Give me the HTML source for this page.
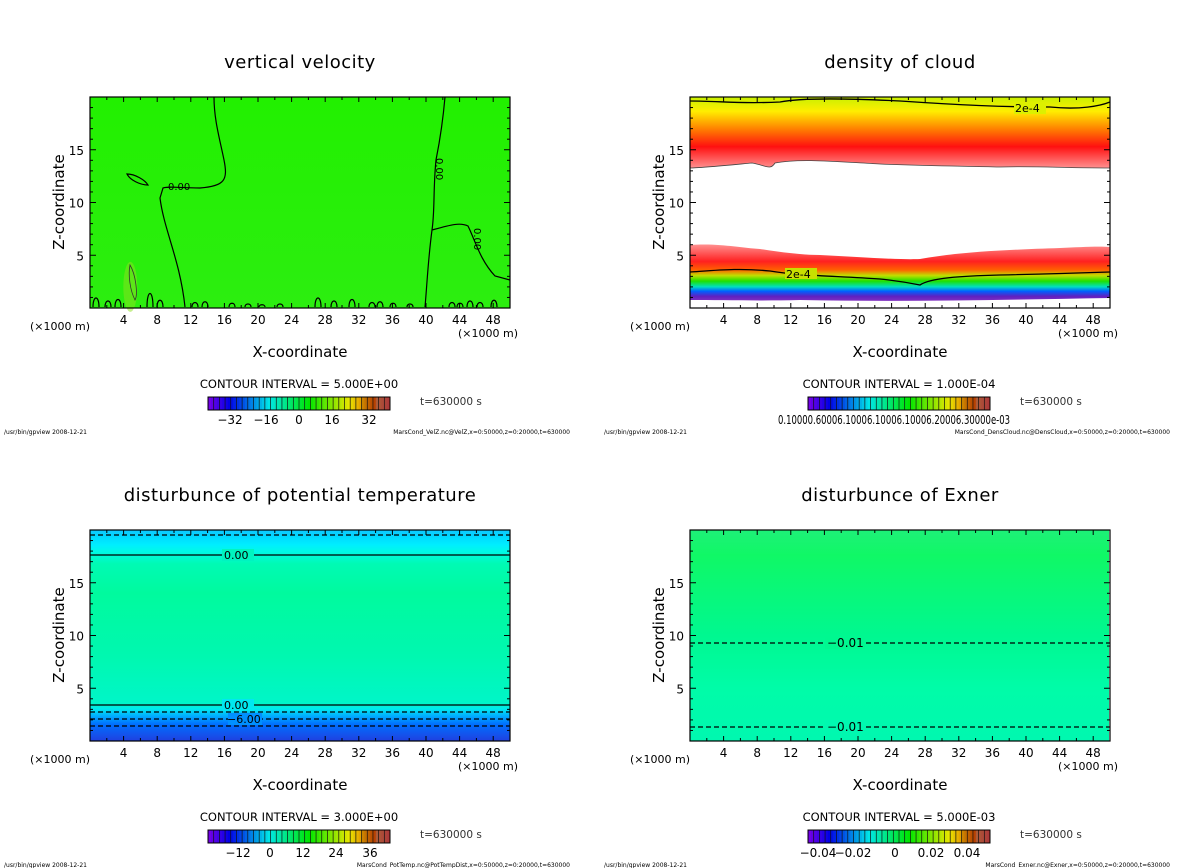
<!DOCTYPE html>
<html><head><meta charset="utf-8"><style>
html,body{margin:0;padding:0;background:#fff;}
svg{display:block;font-family:"DejaVu Sans","Liberation Sans",sans-serif;}
</style></head><body>
<svg id="s" width="1200" height="868" viewBox="0 0 1200 868" xmlns="http://www.w3.org/2000/svg">
<defs>
<linearGradient id="gv" x1="0" y1="0" x2="0" y2="1">
<stop offset="0" stop-color="#22f000"/><stop offset="1" stop-color="#2cee10"/></linearGradient>
<linearGradient id="gt" x1="0" y1="0" x2="0" y2="1">
<stop offset="0" stop-color="#10c8ff"/><stop offset="0.03" stop-color="#00d8ff"/><stop offset="0.07" stop-color="#00eeff"/>
<stop offset="0.1" stop-color="#00f8e8"/><stop offset="0.16" stop-color="#00fab4"/><stop offset="0.3" stop-color="#00fa9e"/>
<stop offset="0.6" stop-color="#00f8b0"/><stop offset="0.82" stop-color="#00f6c8"/><stop offset="0.85" stop-color="#00e8f0"/>
<stop offset="0.88" stop-color="#00b0ff"/><stop offset="0.92" stop-color="#0070ff"/><stop offset="1" stop-color="#2040e0"/></linearGradient>
<linearGradient id="ge" x1="0" y1="0" x2="0" y2="1">
<stop offset="0" stop-color="#1ef078"/><stop offset="0.12" stop-color="#10f866"/><stop offset="0.5" stop-color="#00f890"/>
<stop offset="0.75" stop-color="#00fca8"/><stop offset="1" stop-color="#00f8b0"/></linearGradient>
<linearGradient id="gc1" x1="0" y1="0" x2="0" y2="1">
<stop offset="0" stop-color="#c8f000"/><stop offset="0.2" stop-color="#ffee00"/><stop offset="0.45" stop-color="#ff8000"/>
<stop offset="0.7" stop-color="#ff1010"/><stop offset="0.85" stop-color="#ff5050"/><stop offset="1" stop-color="#ff9090"/></linearGradient>
<linearGradient id="gc2" x1="0" y1="0" x2="0" y2="1">
<stop offset="0" stop-color="#ff9090"/><stop offset="0.3" stop-color="#ff2020"/><stop offset="0.45" stop-color="#ff6000"/>
<stop offset="0.55" stop-color="#c0e000"/><stop offset="0.65" stop-color="#20e000"/><stop offset="0.75" stop-color="#00e0c0"/>
<stop offset="0.83" stop-color="#0060ff"/><stop offset="0.92" stop-color="#6020c0"/><stop offset="1" stop-color="#8030c0"/></linearGradient>
</defs>
<g id="root"></g>
</svg>
<script>
const NS="http://www.w3.org/2000/svg";
const root=document.getElementById('root');
function el(t,a,txt){const e=document.createElementNS(NS,t);for(const k in a)e.setAttribute(k,a[k]);if(txt!==undefined)e.textContent=txt;root.appendChild(e);return e;}
function panel(L,T,title,fill,ci,cbl,foot){
 const R=L+420,B=T+211,H=B-T;
 const xs=x=>L+x*8.4, zs=z=>B-z*H/20;
 el('text',{x:L+210,y:T-29,'font-size':18,'text-anchor':'middle',fill:'#000','letter-spacing':'0.5'},title);
 fill(L,T,R,B,xs,zs);
 for(let i=0;i<=50;i+=2){const x=xs(i);const len=(i%4==0)?5:3;
  el('line',{x1:x,y1:T,x2:x,y2:T+len,stroke:'#000'});el('line',{x1:x,y1:B,x2:x,y2:B-len,stroke:'#000'});
  if(i%4==0&&i>0)el('text',{x:x,y:B+16,'font-size':12,'text-anchor':'middle'},String(i));}
 for(let z=1;z<20;z++){const y=zs(z);const len=(z%5==0)?6:3;
  el('line',{x1:L,y1:y,x2:L+len,y2:y,stroke:'#000'});el('line',{x1:R,y1:y,x2:R-len,y2:y,stroke:'#000'});
  if(z%5==0)el('text',{x:L-6,y:y+5,'font-size':12,'text-anchor':'end'},String(z));}
 el('rect',{x:L,y:T,width:420,height:H,fill:'none',stroke:'#000','stroke-width':1.2});
 el('text',{x:L-60,y:B+22,'font-size':11},'(×1000 m)');
 el('text',{x:R+8,y:B+29,'font-size':11,'text-anchor':'end'},'(×1000 m)');
 el('text',{x:L+210,y:B+49,'font-size':15,'text-anchor':'middle'},'X-coordinate');
 el('text',{x:0,y:0,'font-size':15,'text-anchor':'middle',transform:`translate(${L-26},${T+105}) rotate(-90)`},'Z-coordinate');
 el('text',{x:L+209,y:B+80,'font-size':11.5,'text-anchor':'middle'},'CONTOUR INTERVAL = '+ci);
 const cx=L+118,cw=182,cy=B+89,ch=13,n=64;
 for(let i=0;i<n;i++){const f=i/(n-1);let h=270-f*270;let l=f>0.85?40-(f-0.85)*60:45;let s=100;
  if(f>0.93){s=50;l=45;}
  el('rect',{x:cx+i*cw/n,y:cy,width:cw/n+0.3,height:ch,fill:`hsl(${h},${s}%,${l}%)`});
  if(i%2==0)el('line',{x1:cx+i*cw/n,y1:cy,x2:cx+i*cw/n,y2:cy+ch,stroke:'#111','stroke-width':0.7});}
 el('rect',{x:cx,y:cy,width:cw,height:ch,fill:'none',stroke:'#000'});
 cbl(cx,cy+ch+14);
 el('text',{x:L+330,y:cy+8,'font-size':10.5,fill:'#333'},'t=630000 s');
 el('text',{x:L-86,y:B+126,'font-size':6},'/usr/bin/gpview  2008-12-21');
 el('text',{x:L+480,y:B+126,'font-size':6,'text-anchor':'end'},foot);
}
function labs(list){return (cx,y)=>{list.forEach(([t,x])=>el('text',{x:cx+x,y:y,'font-size':12,'text-anchor':'middle'},t));};}
panel(90,97,'vertical velocity',(L,T,R,B,xs,zs)=>{
 el('rect',{x:L,y:T,width:420,height:B-T,fill:'url(#gv)'});
 el('ellipse',{cx:xs(4.8),cy:zs(2),rx:7,ry:25,fill:'#8ee020',opacity:0.5});
 const st={fill:'none',stroke:'#000','stroke-width':1.2};
 el('path',Object.assign({d:`M214,97 C214,120 220,140 224,160 C228,180 225,186 200,188 C180,188 170,186 163,188 L160,198 C164,230 180,260 185,307`},st));
 el('path',Object.assign({d:`M445,97 C443,120 440,140 436,160 C433,190 435,210 432,230 C428,260 427,285 425,307`},st));
 el('path',Object.assign({d:`M432,230 C450,225 460,222 468,226 C475,240 480,260 495,276 L510,280`},st));
 el('path',Object.assign({d:`M127,174 C135,174 145,180 148,185 C140,185 130,180 127,174 Z`},st));
 el('path',Object.assign({d:`M130,265 C136,275 138,295 135,300 C130,290 128,275 130,265 Z`,stroke:'#333',fill:'none','stroke-width':0.8}));
 const bumps=[[96,12],[108,8],[118,10],[150,18],[160,9],[195,6],[205,7],[232,5],[248,4],[262,3],[280,4],[318,12],[334,8],[352,10],[372,6],[380,7],[393,5],[410,4],[452,6],[460,5],[470,8],[480,6],[494,9]];
 bumps.forEach(([x,h])=>{el('path',Object.assign({d:`M${x-3},307 C${x-3},${307-h} ${x+3},${307-h} ${x+3},307`},st));});
 el('text',{x:168,y:190,'font-size':10},'0.00');
 el('text',{x:0,y:0,'font-size':10,transform:'translate(436,158) rotate(90)'},'0.00');
 el('text',{x:0,y:0,'font-size':10,transform:'translate(474,228) rotate(90)'},'0.00');
},'5.000E+00',labs([['−32',22],['−16',58],['0',91],['16',124],['32',161]]),'MarsCond_VelZ.nc@VelZ,x=0:50000,z=0:20000,t=630000');
panel(690,97,'density of cloud',(L,T,R,B,xs,zs)=>{
 el('path',{d:`M690,97 L1110,97 L1110,168 C1060,168 1040,166 1000,167 C960,166 930,166 880,164 C840,162 800,158 775,163 C770,171 765,165 752,163 C720,166 700,168 690,168 Z`,fill:'url(#gc1)'});
 el('path',{d:`M690,168 C700,168 720,166 752,163 C765,165 770,171 775,163 C800,158 840,162 880,164 C930,166 960,166 1000,167 C1040,166 1060,168 1110,168`,fill:'none',stroke:'#444','stroke-width':0.8});
 el('path',{d:`M690,245 C720,243 740,248 760,249 C780,252 800,255 820,255 C860,257 900,260 920,259 C960,252 1000,250 1060,248 C1080,247 1100,246 1110,247 L1110,298 C1000,300 900,302 800,300 C760,301 720,300 690,300 Z`,fill:'url(#gc2)'});
 const st={fill:'none',stroke:'#000','stroke-width':1.3};
 el('path',Object.assign({d:`M690,101 C720,101 740,104 780,102 C800,98 840,98 900,101 C960,105 1000,107 1050,107 C1080,110 1100,106 1110,102`},st));
 el('path',Object.assign({d:`M690,272 C720,270 740,268 770,271 C800,276 840,276 880,279 C900,281 910,283 920,285 C930,278 960,276 1000,275 C1050,274 1080,273 1110,272`},st));
 el('rect',{x:1014,y:102,width:32,height:12,fill:'#ddf000'});
 el('text',{x:1015,y:112,'font-size':11},'2e-4');
 el('rect',{x:785,y:268,width:32,height:11,fill:'#c8e000'});
 el('text',{x:786,y:278,'font-size':11},'2e-4');
},'1.000E-04',(cx,y)=>{el('text',{x:cx-30,y:y,'font-size':12,textLength:232,lengthAdjust:'spacingAndGlyphs'},'0.10000.60006.10006.10006.10006.20006.30000e-03');},'MarsCond_DensCloud.nc@DensCloud,x=0:50000,z=0:20000,t=630000');
panel(90,530,'disturbunce of potential temperature',(L,T,R,B,xs,zs)=>{
 el('rect',{x:L,y:T,width:420,height:B-T,fill:'url(#gt)'});
 const s={stroke:'#000','stroke-width':1.2};
 el('line',Object.assign({x1:90,y1:555,x2:510,y2:555},s));
 el('line',Object.assign({x1:90,y1:705,x2:510,y2:705},s));
 [535,712,719,726].forEach(y=>el('line',Object.assign({x1:90,y1:y,x2:510,y2:y,'stroke-dasharray':'5,3'},s)));
 el('rect',{x:222,y:549,width:32,height:12,fill:'#00f4c0'});el('text',{x:224,y:559,'font-size':11},'0.00');
 el('rect',{x:222,y:699,width:32,height:12,fill:'#00e8f0'});el('text',{x:224,y:709,'font-size':11},'0.00');
 el('rect',{x:228,y:713,width:34,height:12,fill:'#0090ff'});el('text',{x:227,y:723,'font-size':11},'−6.00');
},'3.000E+00',labs([['−12',30],['0',62],['12',95],['24',128],['36',162]]),'MarsCond_PotTemp.nc@PotTempDist,x=0:50000,z=0:20000,t=630000');
panel(690,530,'disturbunce of Exner',(L,T,R,B,xs,zs)=>{
 el('rect',{x:L,y:T,width:419,height:B-T,fill:'url(#ge)'});
 const s={stroke:'#000','stroke-width':1.2,'stroke-dasharray':'5,3'};
 el('line',Object.assign({x1:690,y1:643,x2:1110,y2:643},s));
 el('line',Object.assign({x1:690,y1:727,x2:1110,y2:727},s));
 el('rect',{x:825,y:636,width:40,height:13,fill:'#00f890'});el('text',{x:827,y:647,'font-size':12},'−0.01');
 el('rect',{x:825,y:720,width:40,height:13,fill:'#00f8b0'});el('text',{x:827,y:731,'font-size':12},'−0.01');
},'5.000E-03',labs([['−0.04',10],['−0.02',45],['0',87],['0.02',123],['0.04',159]]),'MarsCond_Exner.nc@Exner,x=0:50000,z=0:20000,t=630000');
</script>
</body></html>
